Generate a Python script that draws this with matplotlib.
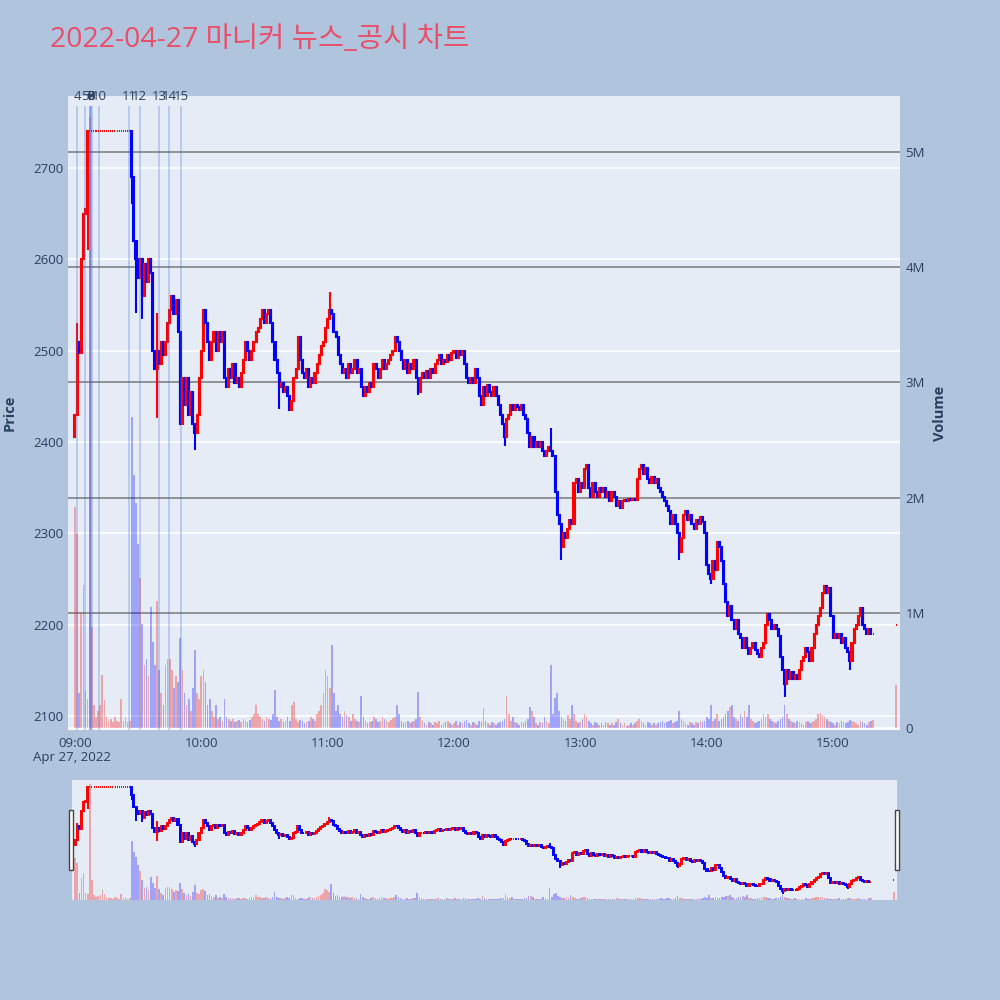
import matplotlib
matplotlib.use('Agg')
import matplotlib.pyplot as plt
from matplotlib.patches import Rectangle
from matplotlib.lines import Line2D
from matplotlib.transforms import blended_transform_factory

plt.rcParams['font.family'] = ['Open Sans', 'Noto Sans CJK KR', 'DejaVu Sans']

# ---- data (minutes after 09:00) ----
title = '2022-04-27 마니커 뉴스_공시 차트'
minutes = list(range(380)) + [390]

close = [
    2430, 2510, 2497, 2600, 2650, 2655, 2740, 2740, 2740, 2740,
    2740, 2740, 2740, 2740, 2740, 2740, 2740, 2740, 2740, 2740,
    2740, 2740, 2740, 2740, 2740, 2740, 2740, 2690, 2620, 2600,
    2580, 2600, 2560, 2595, 2575, 2600, 2585, 2500, 2480, 2500,
    2485, 2510, 2495, 2510, 2530, 2545, 2560, 2540, 2555, 2520,
    2420, 2470, 2440, 2470, 2430, 2455, 2420, 2410, 2430, 2470,
    2500, 2545, 2530, 2510, 2490, 2510, 2520, 2500, 2520, 2510,
    2520, 2470, 2460, 2480, 2470, 2485, 2465, 2470, 2460, 2475,
    2490, 2510, 2500, 2490, 2500, 2510, 2520, 2525, 2535, 2545,
    2530, 2540, 2545, 2530, 2510, 2490, 2475, 2460, 2465, 2455,
    2460, 2450, 2435, 2445, 2470, 2480, 2515, 2490, 2475, 2470,
    2480, 2460, 2470, 2465, 2475, 2485, 2495, 2505, 2510, 2525,
    2535, 2545, 2540, 2520, 2515, 2495, 2485, 2475, 2480, 2470,
    2485, 2475, 2480, 2490, 2475, 2480, 2460, 2450, 2460, 2455,
    2465, 2460, 2485, 2480, 2470, 2480, 2490, 2480, 2485, 2490,
    2495, 2500, 2515, 2510, 2500, 2490, 2480, 2490, 2475, 2485,
    2480, 2490, 2470, 2455, 2470, 2475, 2470, 2478, 2470, 2480,
    2475, 2485, 2490, 2495, 2485, 2490, 2488, 2495, 2490, 2497,
    2500, 2492, 2500, 2495, 2500, 2485, 2470, 2465, 2470, 2465,
    2480, 2470, 2450, 2440, 2460, 2450, 2462, 2455, 2450, 2460,
    2450, 2440, 2430, 2420, 2405, 2425, 2430, 2440, 2435, 2440,
    2438, 2435, 2440, 2430, 2425, 2410, 2395, 2405, 2395, 2400,
    2395, 2400, 2390, 2385, 2390, 2395, 2390, 2385, 2345, 2320,
    2310, 2285, 2300, 2295, 2305, 2315, 2310, 2355, 2360, 2345,
    2355, 2350, 2370, 2375, 2350, 2340, 2355, 2345, 2340, 2350,
    2345, 2350, 2340, 2345, 2335, 2345, 2340, 2330, 2335, 2328,
    2335, 2337, 2335, 2338, 2337, 2338, 2336, 2360, 2370, 2375,
    2365, 2372, 2360, 2355, 2362, 2355, 2360, 2350, 2345, 2340,
    2335, 2330, 2325, 2310, 2320, 2310, 2300, 2280, 2295, 2320,
    2325, 2315, 2320, 2310, 2305, 2315, 2310, 2318, 2312, 2300,
    2265, 2255, 2250, 2270, 2260, 2290, 2285, 2270, 2245, 2225,
    2210, 2220, 2205, 2195, 2205, 2190, 2185, 2175, 2185, 2175,
    2168, 2175, 2180, 2172, 2168, 2165, 2175, 2180, 2200, 2212,
    2205, 2195, 2200, 2195, 2188, 2165, 2150, 2135, 2150, 2140,
    2148, 2140, 2145, 2140, 2150, 2160, 2165, 2175, 2170, 2160,
    2175, 2190, 2200, 2210, 2218, 2235, 2242, 2235, 2240, 2210,
    2185, 2190, 2185, 2190, 2180, 2185, 2175, 2170, 2160, 2180,
    2195, 2200, 2210, 2218, 2200, 2195, 2190, 2195, 2190, 2190,
    2200,
]
open_override = {0: 2405, 390: 2200}
wick_high = {1: 2530, 39: 2541, 121: 2564, 226: 2415}
wick_low = {6: 2610, 27: 2661, 29: 2541, 32: 2535, 39: 2426, 57: 2391, 97: 2436,
            163: 2451, 204: 2396, 231: 2271, 287: 2271, 302: 2245, 337: 2121, 368: 2150}

volume_k = [
    1920, 1680, 300, 1000, 1240, 320, 250, 5300, 880, 200,
    100, 150, 200, 460, 240, 100, 60, 80, 50, 100,
    60, 50, 250, 60, 100, 50, 60, 2700, 2200, 1950,
    1600, 1300, 900, 550, 600, 450, 1050, 750, 550, 1100,
    500, 300, 200, 550, 600, 600, 500, 350, 450, 400,
    780, 500, 300, 200, 250, 150, 350, 680, 300, 250,
    450, 500, 400, 200, 250, 150, 100, 200, 80, 100,
    60, 250, 100, 80, 60, 80, 50, 60, 70, 50,
    80, 60, 50, 70, 100, 120, 200, 120, 100, 80,
    60, 100, 80, 70, 120, 330, 100, 60, 80, 50,
    60, 100, 60, 200, 230, 80, 50, 70, 60, 40,
    50, 60, 100, 80, 60, 120, 150, 200, 300, 500,
    450, 350, 720, 300, 150, 200, 120, 100, 150, 110,
    100, 60, 120, 80, 60, 50, 280, 100, 60, 40,
    50, 60, 100, 80, 50, 60, 100, 80, 60, 50,
    70, 90, 100, 200, 120, 60, 40, 50, 60, 40,
    50, 60, 80, 310, 100, 60, 40, 30, 50, 40,
    30, 50, 40, 60, 30, 40, 50, 60, 40, 30,
    40, 60, 30, 50, 40, 60, 70, 40, 30, 50,
    40, 30, 60, 50, 170, 60, 40, 30, 50, 40,
    30, 40, 50, 60, 80, 280, 120, 60, 100, 50,
    40, 30, 50, 40, 60, 80, 180, 150, 100, 40,
    30, 50, 40, 100, 60, 40, 550, 120, 260, 300,
    150, 100, 80, 60, 110, 80, 200, 120, 60, 40,
    50, 80, 120, 100, 60, 40, 30, 50, 40, 30,
    40, 30, 50, 40, 30, 40, 30, 50, 80, 40,
    30, 40, 20, 30, 40, 30, 40, 60, 80, 60,
    40, 30, 50, 40, 30, 40, 30, 40, 50, 60,
    40, 50, 60, 70, 40, 50, 60, 150, 80, 60,
    40, 30, 50, 40, 30, 50, 40, 60, 50, 60,
    100, 80, 200, 60, 80, 120, 60, 80, 100, 120,
    150, 180, 200, 100, 80, 60, 120, 100, 150, 100,
    200, 80, 60, 40, 50, 60, 80, 120, 100, 120,
    80, 60, 50, 40, 60, 80, 100, 200, 120, 80,
    60, 50, 40, 60, 50, 40, 30, 50, 60, 40,
    50, 60, 80, 120, 130, 110, 100, 80, 60, 50,
    40, 30, 50, 40, 60, 50, 40, 50, 70, 60,
    50, 40, 30, 60, 50, 40, 30, 50, 60, 70,
    370,
]
assert len(close) == len(minutes) == len(volume_k)
volume = [v * 1000 for v in volume_k]

news_labels = ['4', '5', '6', '7', '8', '9', '10', '11', '12', '13', '14', '15']
news_minutes = [1.2, 4.8, 7.0, 7.3, 7.6, 7.9, 11.6, 25.6, 30.8, 40.0, 44.8, 50.4]

hour_ticks = [0, 60, 120, 180, 240, 300, 360]
hour_labels = ['09:00', '10:00', '11:00', '12:00', '13:00', '14:00', '15:00']
price_ticks = [2100, 2200, 2300, 2400, 2500, 2600, 2700]
vol_ticks = [0, 1e6, 2e6, 3e6, 4e6, 5e6]
vol_labels = ['0', '1M', '2M', '3M', '4M', '5M']

# ---- derived candle pieces ----
opens = []
prev = None
for m, c in zip(minutes, close):
    o = open_override.get(m, prev)
    opens.append(o)
    prev = c
colors = ['red' if c >= o else 'blue' for o, c in zip(opens, close)]
highs = [wick_high.get(m, max(o, c)) for m, o, c in zip(minutes, opens, close)]
lows = [wick_low.get(m, min(o, c)) for m, o, c in zip(minutes, opens, close)]

PRICE_LIM = (2084.7, 2778.8)
VOL_LIM = (-0.017e6, 5.486e6)
BG = '#e5ecf6'
TXT = '#2a3f5f'


def draw_candles(ax, lw, bw):
    ax.vlines(minutes, lows, highs, colors=colors, linewidth=lw, zorder=3)
    ax.bar(minutes, [c - o for o, c in zip(opens, close)], bottom=opens, width=bw,
           color=colors, edgecolor=colors, linewidth=lw, zorder=3)


def draw_volume(ax):
    ax.bar(minutes, volume, width=0.8, color=colors, alpha=0.3, linewidth=0, zorder=2)


fig = plt.figure(figsize=(10, 10), dpi=100, facecolor='#b0c4de')

# main panel: volume axis underneath, price axis on top
ax_v = fig.add_axes([0.068, 0.270, 0.832, 0.634])
ax_v.set_facecolor(BG)
ax_p = ax_v.twinx()

ax_v.set_xlim(-3.3, 391.8)
ax_v.set_ylim(*VOL_LIM)
ax_p.set_ylim(*PRICE_LIM)

# price gridlines (white) under everything
tr = blended_transform_factory(ax_v.transAxes, ax_p.transData)
for p in price_ticks:
    ax_v.add_line(Line2D([0, 1], [p, p], transform=tr, color='white', lw=1.2, zorder=0.5))
for v in vol_ticks[1:]:
    ax_v.axhline(v, color='#8a8a8a', lw=1.3, zorder=0.6)
ax_v.axhline(0, color='white', lw=2, zorder=0.6)

draw_volume(ax_v)
draw_candles(ax_p, 1.5, 0.5)

# news / disclosure markers
xt = ax_p.get_xaxis_transform()
ax_p.vlines(news_minutes, 0, 0.985, transform=xt, color='royalblue', alpha=0.35, lw=1.1, zorder=4)
for lab, m in zip(news_labels, news_minutes):
    ax_p.text(m, 1.0, lab, transform=xt, ha='center', va='center', fontsize=9.5, color=TXT, zorder=5)

for ax in (ax_v, ax_p):
    for s in ax.spines.values():
        s.set_visible(False)
    ax.tick_params(length=0, labelsize=9.5, labelcolor=TXT)

ax_p.yaxis.tick_left()
ax_p.yaxis.set_label_position('left')
ax_p.set_yticks(price_ticks)
ax_p.set_yticklabels([str(p) for p in price_ticks])
ax_p.tick_params(axis='y', pad=3)
ax_v.yaxis.tick_right()
ax_v.set_yticks(vol_ticks)
ax_v.set_yticklabels(vol_labels)
ax_v.tick_params(axis='y', pad=4)

ax_v.set_xticks(hour_ticks)
ax_v.set_xticklabels(hour_labels)
ax_v.tick_params(axis='x', pad=5)

fig.text(0.072, 0.242, 'Apr 27, 2022', ha='center', va='center', fontsize=9.5, color=TXT)
fig.text(0.010, 0.587, 'Price', rotation=90, ha='center', va='center', fontsize=10.5,
         fontweight='bold', color=TXT)
fig.text(0.940, 0.587, 'Volume', rotation=90, ha='center', va='center', fontsize=10.5,
         fontweight='bold', color=TXT)
fig.text(0.050, 0.960, title, ha='left', va='center', fontsize=20.5, color='#e8506a')

# range slider
ax_s = fig.add_axes([0.072, 0.100, 0.825, 0.120])
ax_s.set_facecolor(BG)
ax_s2 = ax_s.twinx()
ax_s.set_xlim(-1.5, 391.5)
ax_s.set_ylim(*VOL_LIM)
ax_s2.set_ylim(*PRICE_LIM)
draw_volume(ax_s)
draw_candles(ax_s2, 1.4, 0.5)
for ax in (ax_s, ax_s2):
    ax.set_xticks([])
    ax.set_yticks([])
    for s in ax.spines.values():
        s.set_visible(False)

for hx in (0.069, 0.895):
    fig.patches.append(Rectangle((hx, 0.130), 0.004, 0.060, transform=fig.transFigure,
                                 facecolor='white', edgecolor='#444444', lw=1, zorder=10))

fig.savefig('out.png', dpi=100, facecolor=fig.get_facecolor())
